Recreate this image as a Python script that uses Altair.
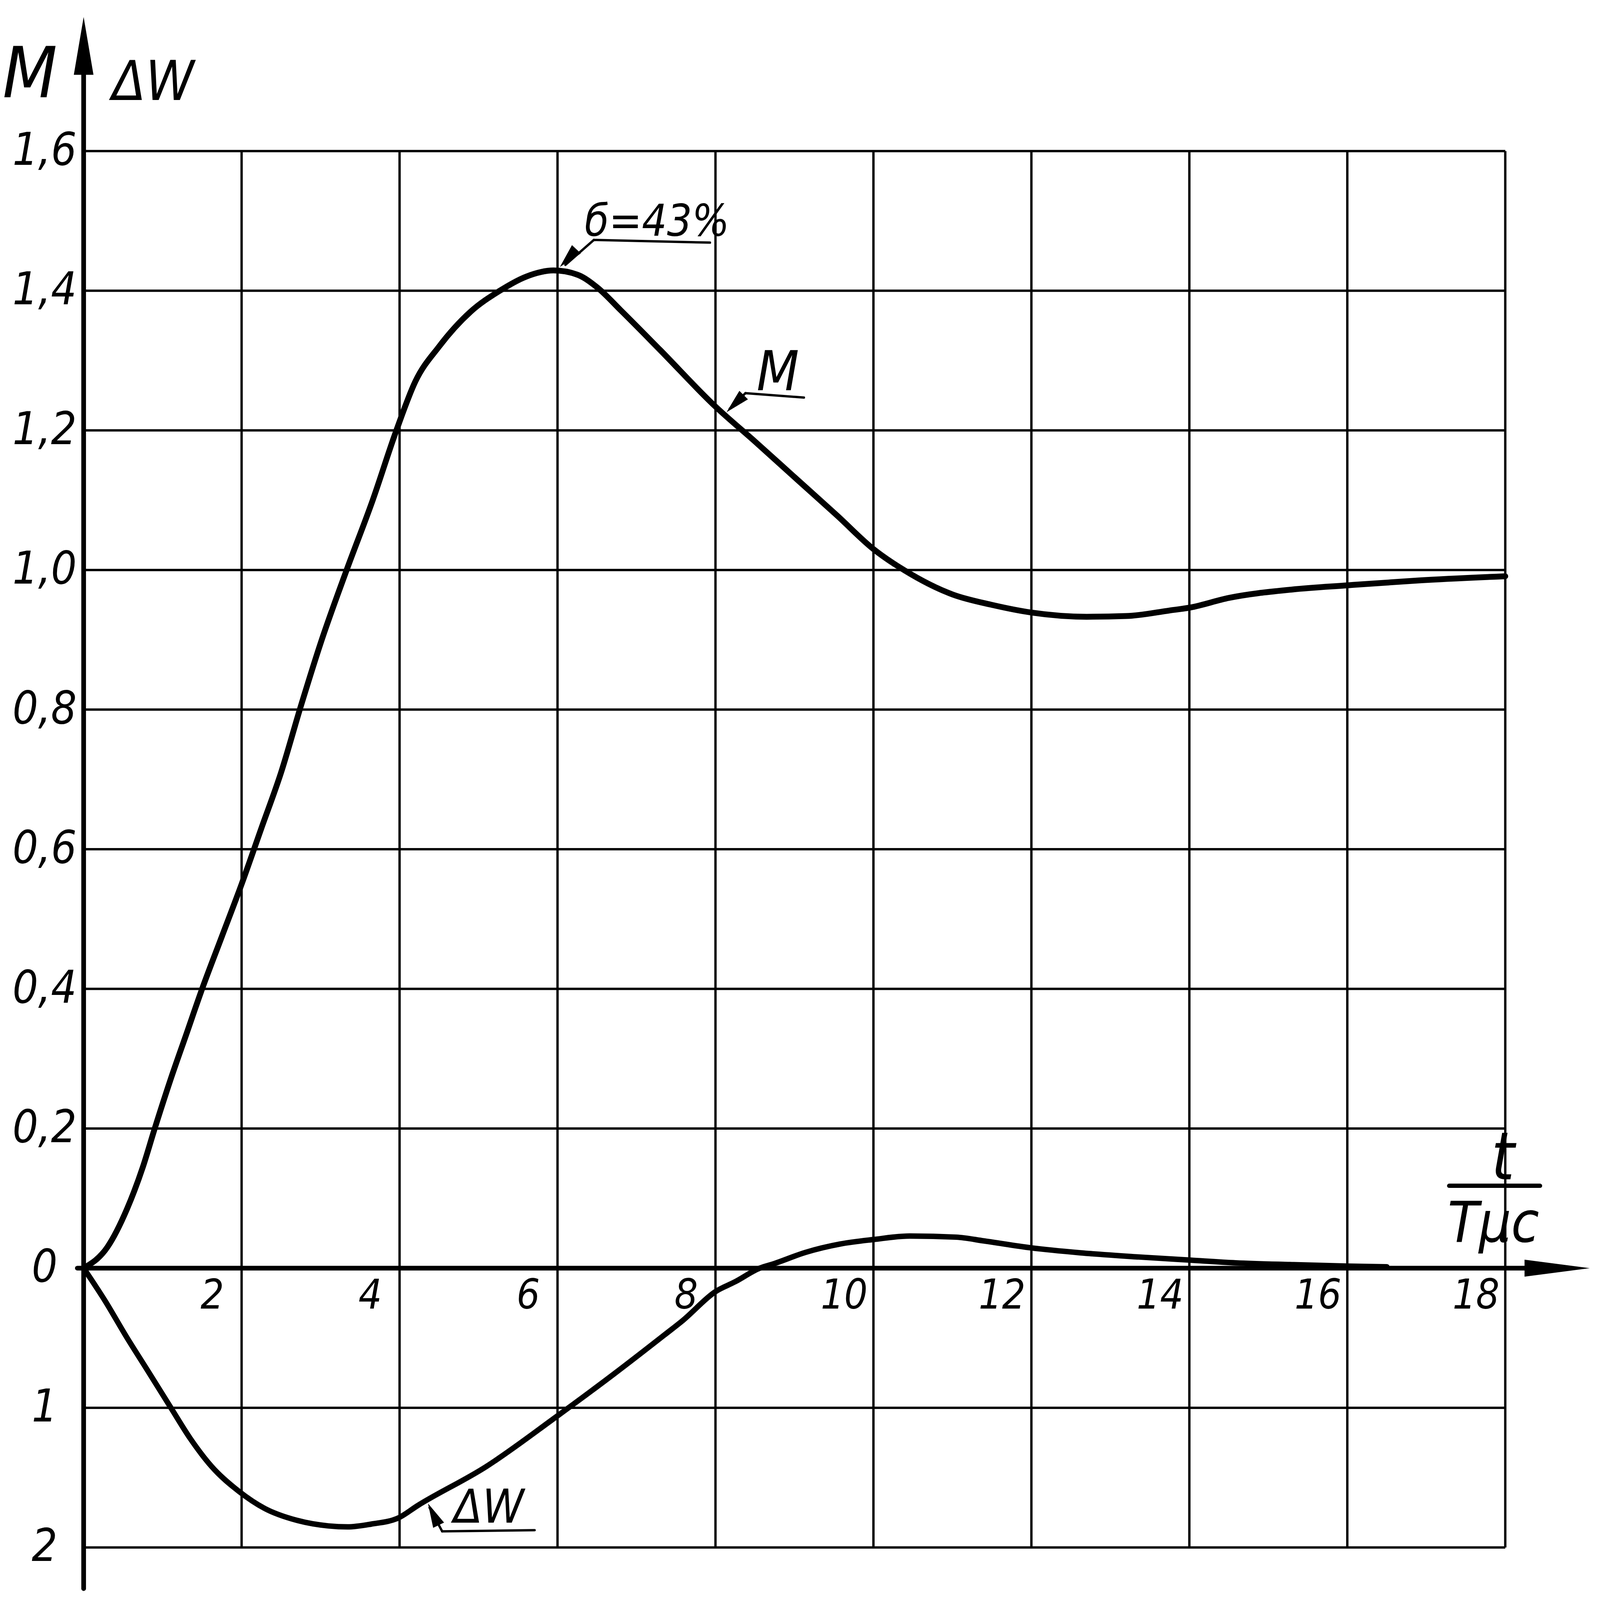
import altair as alt
import pandas as pd

# ---- data ----
m_t = [0, 0.3, 0.55, 0.75, 0.9, 1.1, 1.3, 1.5, 1.75, 2.0, 2.25, 2.5, 2.75, 3.0, 3.33,
       3.66, 3.96, 4.2, 4.5, 4.9, 5.27, 5.6, 5.95, 6.25, 6.5, 6.8, 7.3, 8.0, 8.5, 9.0,
       9.54, 10.0, 10.4, 11.0, 11.5, 12.0, 12.7, 13.2, 13.75, 14.0, 14.5, 15.3, 16.0, 16.9, 18.0]
m_val = [0, 0.03, 0.085, 0.145, 0.2, 0.27, 0.335, 0.4, 0.475, 0.55, 0.63, 0.71, 0.805, 0.895, 1.0,
         1.1, 1.2, 1.27, 1.32, 1.37, 1.40, 1.42, 1.429, 1.423, 1.405, 1.372, 1.315, 1.234, 1.184, 1.133,
         1.078, 1.03, 0.999, 0.965, 0.95, 0.939, 0.933, 0.934, 0.942, 0.946, 0.96, 0.972, 0.978, 0.985, 0.991]

# delta-W read on the lower scale (1, 2 below the time axis; negative = above it)
dw_t = [0, 0.27, 0.54, 0.81, 1.105, 1.35, 1.62, 1.97, 2.29, 2.70, 3.10, 3.34, 3.64, 3.98, 4.23,
        5.10, 5.97, 6.71, 7.35, 7.59, 8.0, 8.25, 8.56, 8.74, 9.14, 9.58, 10.0, 10.46, 11.05, 11.4,
        12.0, 12.62, 13.36, 14.0, 14.59, 15.32, 16.0, 16.5]
dw_val = [0, 0.233, 0.49, 0.733, 1.0, 1.22, 1.42, 1.6, 1.72, 1.806, 1.846, 1.853, 1.833, 1.79, 1.70,
          1.42, 1.07, 0.76, 0.48, 0.373, 0.168, 0.097, 0, -0.032, -0.113, -0.173, -0.205, -0.23, -0.222, -0.195,
          -0.145, -0.11, -0.08, -0.058, -0.038, -0.025, -0.015, -0.01]

x_ticks = [2, 4, 6, 8, 10, 12, 14, 16, 18]
x_tick_labels = ["2", "4", "6", "8", "10", "12", "14", "16", "18"]
x_grid = [0, 2, 4, 6, 8, 10, 12, 14, 16, 18]
y_grid = [-0.4, -0.2, 0, 0.2, 0.4, 0.6, 0.8, 1.0, 1.2, 1.4, 1.6]
y_tick_labels = ["2", "1", "0", "0,2", "0,4", "0,6", "0,8", "1,0", "1,2", "1,4", "1,6"]

FONT = "DejaVu Sans Condensed, DejaVu Sans, sans-serif"

m_df = pd.DataFrame({"t": m_t, "v": m_val})
dw_df = pd.DataFrame({"t": dw_t, "dw": dw_val})
xtick_df = pd.DataFrame({"t": x_ticks, "lab": x_tick_labels})
ytick_df = pd.DataFrame({"v": y_grid, "lab": y_tick_labels})
xgrid_df = pd.DataFrame({"t": x_grid})
ygrid_df = pd.DataFrame({"v": y_grid})
dummy = pd.DataFrame({"k": [0]})

# the view covers the whole drawing; the grid box sits inside it
W = 4078
H = 4078
xs = alt.Scale(domain=[-1.0195, 19.150], nice=False, zero=False)
ys = alt.Scale(domain=[-0.4697, 1.8119], nice=False, zero=False)

X_ARROW = "M0,0L0.26,2L-0.26,2Z"
Y_ARROW = "M0,0L0.34,2L-0.34,2Z"
SMALL = "M0,0L0.55,2.2L-0.55,2.2Z"


def X(v):
    return alt.XDatum(v, scale=xs, axis=None)


def Y(v):
    return alt.YDatum(v, scale=ys, axis=None)


def tx(text, t, y, size, baseline="alphabetic", align="center"):
    return alt.Chart(dummy).mark_text(
        text=text, font=FONT, fontSize=size, fontStyle="italic", color="black",
        align=align, baseline=baseline
    ).encode(x=X(t), y=Y(y))


def seg(t1, y1, t2, y2, w):
    return alt.Chart(dummy).mark_rule(color="black", strokeWidth=w, strokeCap="round").encode(
        x=X(t1), y=Y(y1), x2=alt.X2Datum(t2), y2=alt.Y2Datum(y2))


def head(t, y, angle, size, path):
    return alt.Chart(dummy).mark_point(
        shape=path, angle=angle, size=size, filled=True, fill="black",
        strokeWidth=0, opacity=1
    ).encode(x=X(t), y=Y(y))


vgrid = alt.Chart(xgrid_df).mark_rule(color="black", strokeWidth=6).encode(
    x=alt.X("t:Q", scale=xs, axis=None), y=Y(-0.4), y2=alt.Y2Datum(1.6))
hgrid = alt.Chart(ygrid_df).mark_rule(color="black", strokeWidth=6).encode(
    y=alt.Y("v:Q", scale=ys, axis=None), x=X(0), x2=alt.X2Datum(18))

m_line = alt.Chart(m_df).mark_line(
    stroke="black", strokeWidth=15, interpolate="monotone", strokeCap="round", strokeJoin="round"
).encode(x=alt.X("t:Q", scale=xs, axis=None), y=alt.Y("v:Q", scale=ys, axis=None))

dw_line = alt.Chart(dw_df).transform_calculate(y="-0.2 * datum.dw").mark_line(
    stroke="black", strokeWidth=14, interpolate="monotone", strokeCap="round", strokeJoin="round"
).encode(x=alt.X("t:Q", scale=xs, axis=None), y=alt.Y("y:Q", scale=ys, axis=None))

xtick_text = alt.Chart(xtick_df).mark_text(
    font=FONT, fontSize=105, fontStyle="italic", color="black", align="center",
    baseline="alphabetic", dx=-75, dy=104
).encode(x=alt.X("t:Q", scale=xs, axis=None), y=Y(0), text="lab:N")

ytick_text = alt.Chart(ytick_df).mark_text(
    font=FONT, fontSize=115, fontStyle="italic", color="black", align="center",
    baseline="middle", dx=-100
).encode(x=X(0), y=alt.Y("v:Q", scale=ys, axis=None), text="lab:N")

layers = [
    vgrid, hgrid,
    # axes with arrows
    seg(-0.08, 0, 18.4, 0, 12), head(19.07, 0, 90, 27889, X_ARROW),
    seg(0, -0.459, 0, 1.73, 12), head(0, 1.792, 0, 21904, Y_ARROW),
    m_line, dw_line,
    xtick_text, ytick_text,
    # axis titles
    tx("M", -0.68, 1.677, 180),
    tx("ΔW", 0.88, 1.673, 140),
    tx("t", 17.97, 0.127, 170),
    seg(17.29, 0.118, 18.44, 0.118, 11),
    tx("Tμc", 17.85, 0.038, 145),
    # annotations
    tx("б=43%", 7.26, 1.479, 112),
    seg(6.46, 1.4727, 7.93, 1.4689, 6), seg(6.46, 1.4727, 6.10, 1.437, 6),
    head(6.03, 1.434, 223, 3180, SMALL),
    tx("M", 8.79, 1.2575, 140),
    seg(8.38, 1.2533, 9.12, 1.2469, 6), seg(8.38, 1.2533, 8.18, 1.231, 6),
    head(8.14, 1.226, 225, 3180, SMALL),
    tx("ΔW", 5.13, -0.3647, 120),
    seg(4.54, -0.377, 5.71, -0.3753, 6), seg(4.54, -0.377, 4.38, -0.343, 6),
    head(4.36, -0.337, 334, 3180, SMALL),
]

chart = alt.layer(*layers).properties(
    width=W, height=H,
    autosize=alt.AutoSizeParams(type="none"),
    padding=0,
    background="white",
).configure_view(stroke=None)

chart.save("out.html", embed_options={"renderer": "svg", "actions": False})
